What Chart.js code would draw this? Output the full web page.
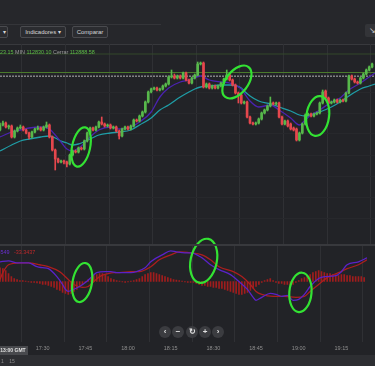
<!DOCTYPE html>
<html><head><meta charset="utf-8">
<script src="https://cdn.jsdelivr.net/npm/chart.js@4/dist/chart.umd.min.js"></script>
<style>
html,body{margin:0;padding:0;background:#222327;width:375px;height:366px;overflow:hidden;font-family:"Liberation Sans",Arial,sans-serif;}
#wrap{position:relative;width:375px;height:366px;}
.a{position:absolute;}
.btn{position:absolute;box-sizing:border-box;border:1px solid #4a4b4f;border-radius:2px;background:#2b2c30;color:#d8d8d8;font-size:6px;line-height:10px;text-align:center;white-space:nowrap;}
.zb{position:absolute;width:12px;height:12px;border-radius:6px;background:#3b3c40;color:#e0e0e0;font-size:8px;line-height:12px;text-align:center;font-weight:bold;top:326px;}
canvas{position:absolute;left:0;}
</style></head>
<body><div id="wrap">
<div class="a" style="left:0;top:0;width:375px;height:44px;background:#26272b;"></div>
<div class="a" style="left:0;top:24px;width:161px;height:1px;background:#343539;"></div>
<div class="btn" style="left:-20px;top:26px;width:28px;height:12px;text-align:right;padding-right:1px;">▾</div>
<div class="btn" style="left:20px;top:26px;width:46px;height:12px;">Indicadores ▾</div>
<div class="btn" style="left:72px;top:26px;width:36px;height:12px;">Comparar</div>
<div class="a" style="left:365px;top:24px;width:14px;height:13px;background:#333438;border-radius:2px;color:#cfcfcf;font-size:8px;line-height:13px;padding-left:4px;box-sizing:border-box;">↘</div>
<div class="a" style="left:0;top:44px;width:375px;height:1px;background:#38393d;"></div>
<canvas id="main" width="375" height="201" style="top:44px;width:375px;height:201px;"></canvas>
<canvas id="macd" width="375" height="125" style="top:230px;width:375px;height:125px;"></canvas>
<div class="a" style="left:0;top:244px;width:375px;height:2px;background:#38393d;"></div>
<div class="a" style="left:0;top:49px;font-size:5.4px;line-height:7px;white-space:nowrap;color:#9a9a9a;"><span style="color:#5dbb46">23.15</span> MIN <span style="color:#5dbb46">112830.10</span> Cerrar <span style="color:#5dbb46">112888.58</span></div>
<div class="a" style="left:-7px;top:249px;font-size:5.4px;line-height:7px;white-space:nowrap;"><span style="color:#6a2fd0">3.5549</span>&nbsp;&nbsp;&nbsp;<span style="color:#c0282a">-33.3437</span></div>
<div class="zb" style="left:159px;">‹</div>
<div class="zb" style="left:172px;">−</div>
<div class="zb" style="left:186px;">↻</div>
<div class="zb" style="left:199px;">+</div>
<div class="zb" style="left:212px;">›</div>
<div class="a" style="left:-2px;top:346px;width:30px;height:9px;background:#48494d;color:#e0e0e0;font-size:5px;line-height:9px;font-weight:bold;text-align:center;">13:00 GMT</div>
<div class="a" style="left:0;top:355px;width:375px;height:11px;background:#2d2e32;"></div>
<div class="a" style="left:1px;top:358px;font-size:5px;color:#8a8a8a;white-space:nowrap;">1&nbsp;&nbsp;&nbsp;&nbsp;15</div>
</div>
<script>
// 1-minute candles, index = minutes after 17:15
const O = [112350,112400,112420,112380,112390,112280,112340,112370,112380,112350,112320,112280,112330,112360,112370,112350,112380,112400,112280,112150,112060,112030,112040,112030,112010,112100,112140,112130,112170,112160,112240,112320,112370,112350,112380,112430,112410,112390,112400,112370,112380,112340,112290,112360,112380,112360,112390,112450,112440,112490,112530,112630,112730,112760,112770,112750,112760,112790,112810,112880,112890,112870,112890,112870,112920,112850,112820,112870,112900,113010,113020,112780,112810,112770,112790,112770,112790,112820,112860,112900,112850,112800,112720,112700,112620,112630,112480,112420,112410,112420,112460,112520,112550,112590,112620,112610,112620,112480,112410,112440,112410,112370,112360,112250,112320,112410,112500,112510,112490,112510,112520,112620,112740,112670,112620,112630,112650,112630,112650,112640,112720,112890,112860,112830,112820,112870,112910,112950,112980];
const H = [112420,112440,112430,112400,112400,112350,112380,112400,112390,112360,112330,112340,112370,112390,112380,112390,112430,112410,112290,112160,112070,112050,112050,112040,112110,112150,112150,112180,112180,112250,112330,112380,112380,112390,112440,112480,112420,112410,112410,112390,112390,112350,112370,112390,112390,112400,112460,112460,112500,112540,112640,112740,112770,112780,112780,112770,112800,112820,112890,112950,112910,112900,112900,112930,112930,112860,112880,112910,113030,113030,113030,112820,112820,112800,112800,112800,112830,112870,112950,112910,112860,112810,112730,112710,112640,112640,112490,112430,112430,112470,112530,112560,112600,112680,112630,112630,112630,112490,112450,112450,112420,112380,112370,112330,112420,112510,112520,112520,112520,112530,112630,112750,112750,112680,112640,112660,112660,112660,112660,112730,112900,112900,112870,112840,112880,112920,112960,112990,113020];
const L = [112340,112390,112370,112360,112270,112270,112330,112360,112340,112310,112260,112270,112320,112350,112340,112340,112370,112270,112140,111950,112020,112020,112010,111980,112000,112090,112120,112120,112150,112150,112230,112310,112340,112340,112370,112400,112380,112380,112360,112360,112330,112260,112280,112350,112350,112350,112380,112430,112430,112480,112520,112620,112720,112750,112740,112740,112750,112780,112800,112870,112860,112860,112860,112860,112840,112810,112810,112860,112890,113000,112770,112770,112760,112760,112760,112760,112780,112810,112850,112840,112790,112710,112620,112610,112610,112470,112410,112400,112400,112410,112450,112510,112540,112580,112600,112600,112470,112400,112400,112380,112350,112340,112240,112240,112310,112400,112490,112480,112480,112500,112510,112610,112660,112610,112610,112620,112620,112620,112630,112630,112710,112850,112820,112810,112810,112860,112900,112940,112970];
const C = [112400,112420,112380,112390,112280,112340,112370,112380,112350,112320,112280,112330,112360,112370,112350,112380,112400,112280,112150,112060,112030,112040,112030,112010,112100,112140,112130,112170,112160,112240,112320,112370,112350,112380,112430,112410,112390,112400,112370,112380,112340,112290,112360,112380,112360,112390,112450,112440,112490,112530,112630,112730,112760,112770,112750,112760,112790,112810,112880,112890,112870,112890,112870,112920,112850,112820,112870,112900,113010,113020,112780,112810,112770,112790,112770,112790,112820,112860,112900,112850,112800,112720,112700,112620,112630,112480,112420,112410,112420,112460,112520,112550,112590,112620,112610,112620,112480,112410,112440,112390,112360,112350,112250,112320,112410,112500,112510,112490,112510,112520,112620,112730,112670,112620,112630,112650,112630,112650,112640,112720,112890,112860,112830,112820,112870,112910,112950,112980,113010];

const timeTicks = [15,30,45,60,75,90,105,120];
const timeLabels = ['17:30','17:45','18:00','18:15','18:30','18:45','19:00','19:15'];

const maTimes = [0,4,7,10,14,17,19,21,23,25,27,28,30,31,34,38,41,45,48,52,55,58,62,65,67,69,72,76,79,83,84,86,89,93,96,100,103,105,107,110,114,117,120,124,127,129];
const maFast = [112280,112330,112350,112370,112380,112360,112300,112230,112160,112140,112170,112190,112250,112280,112350,112380,112360,112380,112430,112530,112680,112770,112830,112850,112870,112890,112850,112830,112820,112760,112720,112640,112580,112600,112550,112470,112400,112450,112500,112550,112630,112670,112750,112820,112880,112920];
const maSlow = [112140,112200,112240,112260,112280,112290,112270,112240,112220,112200,112210,112220,112250,112260,112300,112320,112330,112350,112400,112470,112550,112600,112680,112730,112760,112780,112790,112800,112800,112770,112740,112690,112640,112610,112580,112540,112500,112490,112500,112530,112580,112630,112690,112760,112790,112810];

const priceGrid = [112730,112520,112310,112100,111890,111680,111470];
const lastPrice = 112888.58;
const highPrice = 112925;
const topPrice = 113110;

const macdTimes = [0,3,6,8,10,13,15,17,20,22,23,24,25,28,30,32,34,37,39,41,44,46,48,51,53,55,57,60,62,65,67,71,74,77,81,84,87,89,90,92,95,97,99,101,103,105,107,109,112,114,118,120,122,126,129];
const macdVals = [60,63,57,57,57,45,42,39,15,-9,-24,-30,-27,-15,-3,12,27,30,30,27,27,27,30,42,60,72,81,93,90,87,87,72,51,36,21,0,-24,-48,-57,-48,-36,-39,-45,-42,-57,-54,-39,-15,9,15,18,30,51,60,72];
const sigTimes = [0,1,3,7,10,14,17,21,24,26,29,31,33,35,38,40,42,46,49,53,56,60,63,67,71,74,77,82,85,88,90,92,96,100,104,107,109,112,115,119,122,126,129];
const sigVals = [6,27,51,57,57,51,45,30,6,-9,-18,-15,0,15,24,27,27,30,30,45,66,81,90,87,81,66,45,30,15,-9,-30,-39,-45,-45,-48,-45,-30,-9,12,27,39,51,66];
const hist = [42,39,33,24,15,9,6,3,3,1.5,-1.5,-3,-3,-4.5,-6,-9,-9,-12,-15,-18,-24,-27,-33,-36,-39,-36,-30,-24,-15,-9,-3,6,12,18,21,24,24,21,15,9,6,3,1.5,-1.5,-3,-1.5,1.5,3,6,9,15,21,24,27,27,24,21,18,15,12,9,6,4.5,3,1.5,-1.5,-3,-3,-3,-6,-9,-12,-12,-15,-15,-18,-18,-21,-21,-24,-27,-30,-33,-36,-39,-39,-36,-33,-27,-21,-15,-9,-3,3,6,9,3,-3,-6,-6,-9,-9,-12,-9,-3,3,9,12,18,21,27,30,33,30,27,24,24,21,21,18,21,21,18,18,15,15,15,15,12];

// hand-drawn highlight loops (time, value, half-width in minutes, half-height in value units, tilt)
const markMainT = [27.9, 81.5, 109.3];
const markMainV = [112180, 112830, 112490];
const markMainDT = [3.1, 3.8, 3.9];
const markMainDV = [200, 190, 200];
const markMainRot = [12, 38, 8];
const markMacdT = [28.9, 71.6, 105.6];
const markMacdV = [-3, 63, -33];
const markMacdDT = [3.4, 4.6, 3.9];
const markMacdDV = [60, 68, 60];
const markMacdRot = [10, 12, 5];

Chart.defaults.font.family = '"Liberation Sans", Arial, sans-serif';
Chart.defaults.animation = false;

function marksPlugin(T, V, DT, DV, R) {
  return { id: 'marks', afterDraw(chart) {
    const ctx = chart.ctx, xs = chart.scales.x, ys = chart.scales.y;
    ctx.save();
    ctx.strokeStyle = '#33e233'; ctx.lineWidth = 2.2;
    for (let i = 0; i < T.length; i++) {
      const cx = xs.getPixelForValue(T[i]), cy = ys.getPixelForValue(V[i]);
      const rx = Math.abs(xs.getPixelForValue(T[i] + DT[i]) - cx);
      const ry = Math.abs(ys.getPixelForValue(V[i] + DV[i]) - cy);
      ctx.beginPath(); ctx.ellipse(cx, cy, rx, ry, R[i] * Math.PI / 180, 0, Math.PI * 2); ctx.stroke();
    }
    ctx.restore();
  }};
}

const GREEN = '#57b84b', RED = '#e5474d';
const candleColors = C.map((c, i) => c >= O[i] ? GREEN : RED);
const nMin = 129;

new Chart(document.getElementById('main'), {
  type: 'bar',
  data: { datasets: [
    { type: 'bar', data: O.map((o, i) => ({ x: i, y: [o, C[i]] })), backgroundColor: candleColors, barThickness: 2, grouped: false, order: 1 },
    { type: 'bar', data: L.map((l, i) => ({ x: i, y: [l, H[i]] })), backgroundColor: candleColors, barThickness: 1, grouped: false, order: 2 },
    { type: 'line', data: maTimes.map((t, i) => ({ x: t, y: maFast[i] })), borderColor: '#4a22b0', borderWidth: 1.3, pointRadius: 0, cubicInterpolationMode: 'monotone', order: 3 },
    { type: 'line', data: maTimes.map((t, i) => ({ x: t, y: maSlow[i] })), borderColor: '#1f9da6', borderWidth: 1.3, pointRadius: 0, cubicInterpolationMode: 'monotone', order: 4 },
    { type: 'line', data: [{ x: 0, y: lastPrice }, { x: nMin, y: lastPrice }], borderColor: '#b5b5b5', borderWidth: 1, borderDash: [2, 1], pointRadius: 0, order: 5 },
    { type: 'line', data: [{ x: 0, y: highPrice }, { x: nMin, y: highPrice }], borderColor: '#4a7a2c', borderWidth: 1, pointRadius: 0, order: 6 },
    { type: 'line', data: [{ x: 0, y: topPrice }, { x: nMin, y: topPrice }], borderColor: '#33492a', borderWidth: 1, pointRadius: 0, order: 7 }
  ]},
  options: {
    responsive: false, devicePixelRatio: 1, animation: false,
    layout: { padding: 0 },
    plugins: { legend: { display: false }, tooltip: { enabled: false } },
    scales: {
      x: { type: 'linear', min: 0, max: nMin, offset: false,
        afterBuildTicks: s => { s.ticks = timeTicks.map(v => ({ value: v })); },
        ticks: { display: false }, border: { display: false },
        grid: { color: '#2f3034', lineWidth: 1, drawTicks: false } },
      y: { type: 'linear', min: 111200, max: 113210, position: 'right',
        afterBuildTicks: s => { s.ticks = priceGrid.map(v => ({ value: v })); },
        ticks: { display: false }, border: { display: false },
        grid: { color: '#27282c', lineWidth: 1, drawTicks: false } }
    }
  },
  plugins: [marksPlugin(markMainT, markMainV, markMainDT, markMainDV, markMainRot)]
});

new Chart(document.getElementById('macd'), {
  type: 'bar',
  data: { datasets: [
    { type: 'line', data: macdTimes.map((t, i) => ({ x: t, y: macdVals[i] })), borderColor: '#5a22c8', borderWidth: 1.3, pointRadius: 0, cubicInterpolationMode: 'monotone', order: 1 },
    { type: 'line', data: sigTimes.map((t, i) => ({ x: t, y: sigVals[i] })), borderColor: '#ad1e1e', borderWidth: 1.3, pointRadius: 0, cubicInterpolationMode: 'monotone', order: 2 },
    { type: 'bar', data: hist.map((h, i) => ({ x: i, y: h })), backgroundColor: '#a01d1d', barThickness: 1, grouped: false, order: 3 }
  ]},
  options: {
    responsive: false, devicePixelRatio: 1, animation: false,
    layout: { padding: { top: 16, left: 0, right: 0, bottom: 0 } },
    plugins: { legend: { display: false }, tooltip: { enabled: false } },
    scales: {
      x: { type: 'linear', min: 0, max: nMin, offset: false,
        afterBuildTicks: s => { s.ticks = timeTicks.map(v => ({ value: v })); },
        ticks: { autoSkip: false, maxRotation: 0, padding: 3, color: '#8f8f8f', font: { size: 5.5 },
          callback: (v, i) => timeLabels[i] },
        border: { display: false },
        grid: { color: '#2f3034', lineWidth: 1, drawTicks: false } },
      y: { type: 'linear', min: -185, max: 108, position: 'right',
        ticks: { display: false }, border: { display: false }, grid: { display: false } }
    }
  },
  plugins: [marksPlugin(markMacdT, markMacdV, markMacdDT, markMacdDV, markMacdRot)]
});
</script>
</body></html>
